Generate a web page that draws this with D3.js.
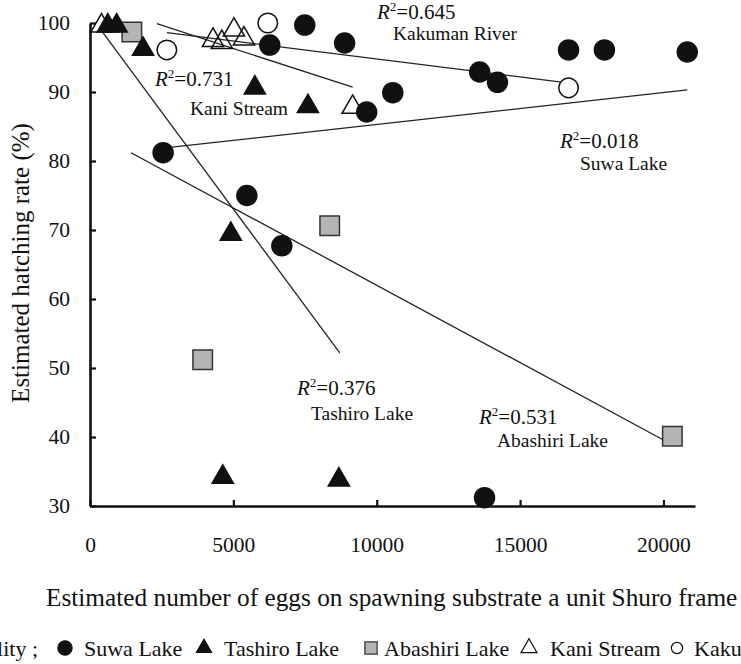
<!DOCTYPE html>
<html>
<head>
<meta charset="utf-8">
<script src="https://cdn.jsdelivr.net/npm/d3@7"></script>
<style>
body { margin: 0; background: #fff; }
svg { display: block; font-family: "Liberation Serif", "Times New Roman", serif; }
</style>
</head>
<body>
<div class="chart"></div>
<script>
//Data (eggs per unit Shuro frame, hatching rate %)
const suwaLake = [
    {eggs: 2550, rate: 81.2}, {eggs: 5470, rate: 75.0}, {eggs: 6690, rate: 67.7},
    {eggs: 6270, rate: 96.8}, {eggs: 7490, rate: 99.7}, {eggs: 8880, rate: 97.1},
    {eggs: 9650, rate: 87.1}, {eggs: 10560, rate: 89.9}, {eggs: 13590, rate: 92.9},
    {eggs: 14210, rate: 91.4}, {eggs: 16690, rate: 96.1}, {eggs: 17940, rate: 96.1},
    {eggs: 20830, rate: 95.8}, {eggs: 13760, rate: 31.2}
];
const tashiroLake = [
    {eggs: 620, rate: 99.6}, {eggs: 930, rate: 99.6}, {eggs: 1850, rate: 96.2},
    {eggs: 5750, rate: 90.6}, {eggs: 7600, rate: 87.9}, {eggs: 4910, rate: 69.4},
    {eggs: 4630, rate: 34.2}, {eggs: 8680, rate: 33.8}
];
const abashiriLake = [
    {eggs: 1460, rate: 98.7}, {eggs: 8360, rate: 70.6},
    {eggs: 3930, rate: 51.2}, {eggs: 20310, rate: 40.1}
];
const kaniStream = [
    {eggs: 400, rate: 99.6}, {eggs: 4290, rate: 97.5}, {eggs: 4600, rate: 97.2},
    {eggs: 5020, rate: 99.0}, {eggs: 5370, rate: 97.7}, {eggs: 9160, rate: 87.8}
];
const kakumanRiver = [
    {eggs: 2680, rate: 96.1}, {eggs: 6200, rate: 100}, {eggs: 16690, rate: 90.6}
];

//Trend lines: start and end as drawn in the figure
const trendLines = [
    {name: 'Kakuman River', r2: '0.645', from: [2680, 98.6], to: [16720, 91.3]},
    {name: 'Kani Stream', r2: '0.731', from: [2330, 99.9], to: [9160, 90.7]},
    {name: 'Suwa Lake', r2: '0.018', from: [2860, 82.0], to: [20830, 90.3]},
    {name: 'Tashiro Lake', r2: '0.376', from: [400, 98.9], to: [8710, 52.2]},
    {name: 'Abashiri Lake', r2: '0.531', from: [1430, 81.2], to: [20210, 39.1]}
];

const xTicks = [0, 5000, 10000, 15000, 20000];
const yTicks = [30, 40, 50, 60, 70, 80, 90, 100];

const WIDTH = 741;
const HEIGHT = 664;

let svg = d3.select('.chart')
.append('svg')
.attr('width', WIDTH)
.attr('height', HEIGHT);

const x = d3.scaleLinear().domain([0, 21100]).range([90, 695]);
const y = d3.scaleLinear().domain([30, 100]).range([506, 23]);

//Axes, ticks pointing inward
let xAxis = svg.append('g')
.attr('transform', 'translate(0,506)')
.call(d3.axisBottom(x).tickValues(xTicks).tickSize(-6).tickSizeOuter(0).tickPadding(31).tickFormat(d3.format('d')));

let yAxis = svg.append('g')
.attr('transform', 'translate(90,0)')
.call(d3.axisLeft(y).tickValues(yTicks).tickSize(-6).tickSizeOuter(0).tickPadding(20));

[xAxis, yAxis].forEach(function(ax) {
    ax.select('.domain').attr('stroke', '#111').attr('stroke-width', 2.6);
    ax.selectAll('.tick line').attr('stroke', '#111').attr('stroke-width', 2.2);
    ax.selectAll('.tick text')
    .attr('fill', '#111')
    .style('font-family', '"Liberation Serif", serif')
    .style('font-size', '21.5px');
});

//Axis titles
svg.append('text')
.attr('transform', 'translate(29,263) rotate(-90)')
.attr('text-anchor', 'middle')
.style('font-size', '25px')
.attr('fill', '#111')
.text('Estimated hatching rate (%)');

svg.append('text')
.attr('x', 46)
.attr('y', 606)
.style('font-size', '25.3px')
.attr('fill', '#111')
.text('Estimated number of eggs on spawning substrate a unit Shuro frame');

//Trend lines
svg.append('g')
.selectAll()
.data(trendLines)
.enter()
.append('line')
.attr('x1', d => x(d.from[0]))
.attr('y1', d => y(d.from[1]))
.attr('x2', d => x(d.to[0]))
.attr('y2', d => y(d.to[1]))
.attr('stroke', '#222')
.attr('stroke-width', 1.3);

//Annotation placement (pixels)
const annot = {
    'Kakuman River': {r2: [377, 19], name: [393, 39.5]},
    'Kani Stream': {r2: [155, 86], name: [190, 115]},
    'Suwa Lake': {r2: [560, 148], name: [580, 169.5]},
    'Tashiro Lake': {r2: [297, 395], name: [311, 420]},
    'Abashiri Lake': {r2: [479, 424], name: [497, 447]}
};

trendLines.forEach(function(d) {
    let pos = annot[d.name];
    let t = svg.append('text')
    .attr('x', pos.r2[0])
    .attr('y', pos.r2[1])
    .attr('fill', '#111')
    .style('font-size', '21px');
    t.append('tspan').style('font-style', 'italic').text('R');
    t.append('tspan').attr('dy', -8).style('font-size', '13px').text('2');
    t.append('tspan').attr('dy', 8).text('=' + d.r2);

    svg.append('text')
    .attr('x', pos.name[0])
    .attr('y', pos.name[1])
    .attr('fill', '#111')
    .style('font-size', '19.5px')
    .text(d.name);
});

//Marker styles for each locality
const styles = {
    'Suwa Lake': {shape: d3.symbolCircle, size: 314, fill: '#111', stroke: '#111'},
    'Tashiro Lake': {shape: d3.symbolTriangle, size: 195, fill: '#111', stroke: '#111'},
    'Abashiri Lake': {shape: d3.symbolSquare, size: 380, fill: '#b4b4b4', stroke: '#333'},
    'Kani Stream': {shape: d3.symbolTriangle, size: 195, fill: 'none', stroke: '#111'},
    'Kakuman River': {shape: d3.symbolCircle, size: 300, fill: '#fff', stroke: '#111'}
};

const series = [
    {name: 'Abashiri Lake', data: abashiriLake},
    {name: 'Kani Stream', data: kaniStream},
    {name: 'Kakuman River', data: kakumanRiver},
    {name: 'Tashiro Lake', data: tashiroLake},
    {name: 'Suwa Lake', data: suwaLake}
];

series.forEach(function(s) {
    let st = styles[s.name];
    svg.append('g')
    .selectAll()
    .data(s.data)
    .enter()
    .append('path')
    .attr('transform', d => `translate(${x(d.eggs)},${y(d.rate)})`)
    .attr('d', d3.symbol().type(st.shape).size(st.size))
    .attr('fill', st.fill)
    .attr('stroke', st.stroke)
    .attr('stroke-width', 1.5);
});

//Legend along the bottom (cut at both edges like the figure)
const legendItems = ['Suwa Lake', 'Tashiro Lake', 'Abashiri Lake', 'Kani Stream', 'Kakuman River'];
const legendMarkX = [65, 204, 371, 529, 677];
const legendTextX = [84, 224, 384, 550, 694];
const legendSizes = [160, 100, 150, 110, 100];

svg.append('text')
.attr('x', 38)
.attr('y', 656)
.attr('text-anchor', 'end')
.attr('fill', '#111')
.style('font-size', '22px')
.text('Locality ;');

let legend = svg.append('g');

legendItems.forEach(function(name, i) {
    let st = styles[name];
    legend.append('path')
    .attr('transform', `translate(${legendMarkX[i]},648)`)
    .attr('d', d3.symbol().type(st.shape).size(legendSizes[i]))
    .attr('fill', st.fill)
    .attr('stroke', st.stroke)
    .attr('stroke-width', 1.2);

    legend.append('text')
    .attr('x', legendTextX[i])
    .attr('y', 656)
    .attr('fill', '#111')
    .style('font-size', '22px')
    .text(name);
});
</script>
</body>
</html>
